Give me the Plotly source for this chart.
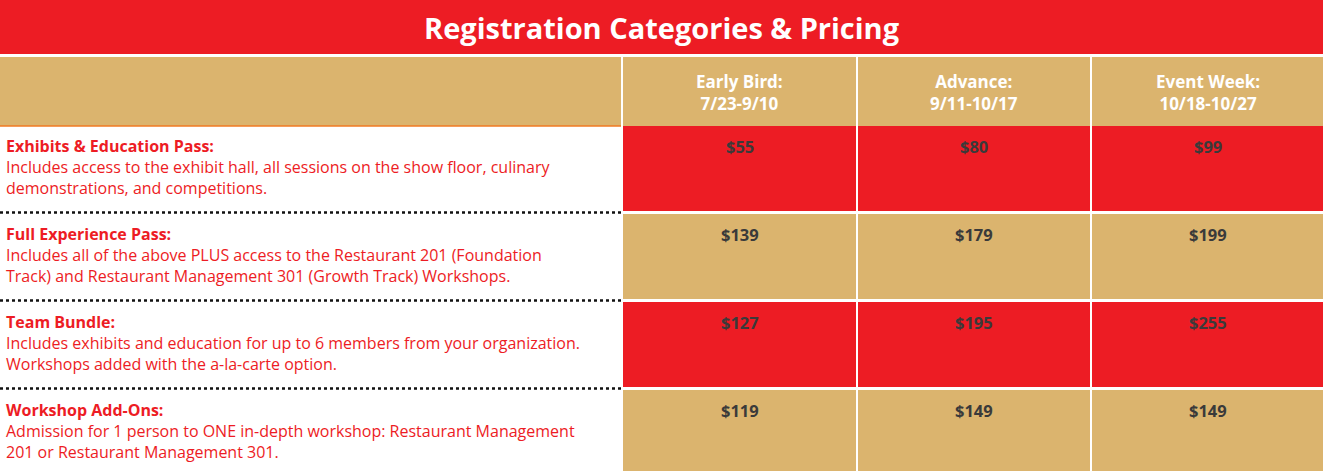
import plotly.graph_objects as go

RED = "#ED1C24"
GOLD = "#DBB46E"

title = "Registration Categories &amp; Pricing"
periods = ["Early Bird:<br>7/23-9/10", "Advance:<br>9/11-10/17", "Event Week:<br>10/18-10/27"]
passes = ["Exhibits &amp; Education Pass:", "Full Experience Pass:", "Team Bundle:", "Workshop Add-Ons:"]
descriptions = [
    "Includes access to the exhibit hall, all sessions on the show floor, culinary<br>demonstrations, and competitions.",
    "Includes all of the above PLUS access to the Restaurant 201 (Foundation<br>Track) and Restaurant Management 301 (Growth Track) Workshops.",
    "Includes exhibits and education for up to 6 members from your organization.<br>Workshops added with the a-la-carte option.",
    "Admission for 1 person to ONE in-depth workshop: Restaurant Management<br>201 or Restaurant Management 301.",
]
prices = [
    ["$55", "$80", "$99"],
    ["$139", "$179", "$199"],
    ["$127", "$195", "$255"],
    ["$119", "$149", "$149"],
]

W, H = 1323, 471
col_x = [(623, 856), (858, 1090), (1092, 1323)]
row_y = [(126, 211), (214, 299), (302, 387), (390, 471)]

fig = go.Figure()
shapes = []
ann = []

# title band
shapes.append(dict(type="rect", x0=0, x1=W, y0=0, y1=54, fillcolor=RED, line_width=0))
ann.append(dict(x=W / 2, y=27, text="<b>" + title + "</b>", showarrow=False,
                font=dict(size=29, color="white", family="Open Sans")))

# header row
shapes.append(dict(type="rect", x0=0, x1=621, y0=57, y1=126, fillcolor=GOLD, line_width=0))
for (x0, x1), p in zip(col_x, periods):
    shapes.append(dict(type="rect", x0=x0, x1=x1, y0=57, y1=126, fillcolor=GOLD, line_width=0))
    ann.append(dict(x=(x0 + x1) / 2, y=92, text="<b>" + p + "</b>", showarrow=False,
                    font=dict(size=17, color="white", family="Open Sans")))
shapes.append(dict(type="line", x0=0, x1=621, y0=126, y1=126, line=dict(color="#F07A22", width=1.5)))

for i, (y0, y1) in enumerate(row_y):
    fill = RED if i % 2 == 0 else GOLD
    for j, (x0, x1) in enumerate(col_x):
        shapes.append(dict(type="rect", x0=x0, x1=x1, y0=y0, y1=y1, fillcolor=fill, line_width=0))
        ann.append(dict(x=(x0 + x1) / 2, y=y0 + 20, text="<b>" + prices[i][j] + "</b>", showarrow=False,
                        font=dict(size=16.5, color="#3a3a3a", family="Open Sans")))
    ann.append(dict(x=4, y=y0 + 7, xanchor="left", yanchor="top", align="left", showarrow=False,
                    text="<b>" + passes[i] + "</b><br>" + descriptions[i],
                    font=dict(size=16, color=RED, family="Open Sans")))
    if i < 3:
        shapes.append(dict(type="line", x0=0, x1=621, y0=y1 + 1.5, y1=y1 + 1.5,
                           line=dict(color="#111", width=2.5, dash="dot")))

fig.update_layout(
    width=W, height=H, margin=dict(l=0, r=0, t=0, b=0),
    paper_bgcolor="white", plot_bgcolor="white",
    xaxis=dict(range=[0, W], visible=False, fixedrange=True),
    yaxis=dict(range=[H, 0], visible=False, fixedrange=True),
    shapes=shapes, annotations=ann, showlegend=False,
)
fig.write_html("out.html", config={"displayModeBar": False},
               post_script="document.body.style.margin='0';")
